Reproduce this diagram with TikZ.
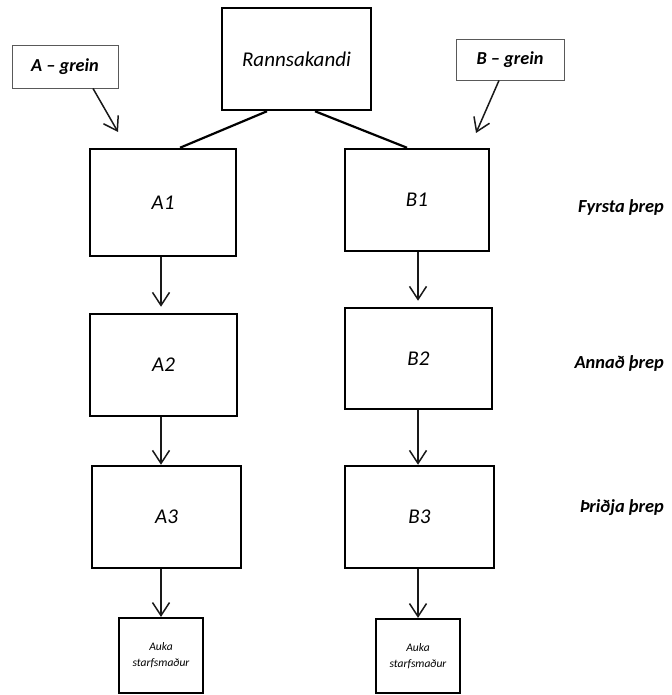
\documentclass[tikz,border=0pt]{standalone}
\usepackage{fontspec}
\setmainfont{Carlito}
\usetikzlibrary{arrows.meta,calc}
\begin{document}
\begin{tikzpicture}[x=1pt,y=-1pt,
  box/.style={draw, line width=2.5pt, inner sep=0pt, font=\itshape\fontsize{21}{25}\selectfont},
  tag/.style={draw=black!65, line width=0.9pt, inner sep=0pt, font=\bfseries\itshape\fontsize{18.3}{21}\selectfont},
  smallbox/.style={draw, line width=2.2pt, inner sep=0pt, align=center, font=\itshape\fontsize{11.5}{16}\selectfont},
  steplbl/.style={inner sep=0pt, anchor=east, font=\bfseries\itshape\fontsize{18.4}{21}\selectfont},
  arr/.style={draw=black!90, line width=1.5pt, -{Straight Barb[length=13pt,width=17pt]}},
  link/.style={line width=2.2pt}]
\useasboundingbox (0,0) rectangle (671,695);

\node[box, minimum width=149pt, minimum height=102pt] (R) at (296.5,59) {Rannsakandi};
\node[tag, minimum width=106pt, minimum height=43pt] (Ag) at (65,66.5) {A -- grein};
\node[tag, minimum width=108pt, minimum height=41pt] (Bg) at (510,59.5) {B -- grein};

\node[box, minimum width=146pt, minimum height=107pt] (A1) at (163,202.5) {A1};
\node[box, minimum width=144pt, minimum height=102pt] (B1) at (417,200) {B1};
\node[box, minimum width=147pt, minimum height=102pt] (A2) at (163.5,365) {A2};
\node[box, minimum width=147pt, minimum height=101pt] (B2) at (418.5,358.5) {B2};
\node[box, minimum width=149pt, minimum height=102pt] (A3) at (166.5,517) {A3};
\node[box, minimum width=149pt, minimum height=102pt] (B3) at (419.5,517) {B3};
\node[smallbox, minimum width=84pt, minimum height=75pt] (AukaA) at (161,655.5) {Auka\\starfsmaður};
\node[smallbox, minimum width=84pt, minimum height=74pt] (AukaB) at (418,656) {Auka\\starfsmaður};

\node[steplbl] (L1) at (664,207) {Fyrsta þrep};
\node[steplbl] (L2) at (664,363) {Annað þrep};
\node[steplbl] (L3) at (664,508) {Þriðja þrep};

\draw[link] ($(R.south)+(-29.5,0)$) -- ($(A1.north)+(17,0)$);
\draw[link] ($(R.south)+(18.5,0)$) -- ($(B1.north)+(-10,0)$);

\coordinate (ta) at (118,132);
\coordinate (tb) at (476,133);
\draw[arr] ($(Ag.south)+(28,0)$) -- (ta);
\draw[arr] ($(Bg.south)+(-11,0)$) -- (tb);

\draw[arr] (A1.south -| AukaA) -- ($(A2.north -| AukaA)+(0,-6)$);
\draw[arr] (A2.south -| AukaA) -- (A3.north -| AukaA);
\draw[arr] (A3.south -| AukaA) -- (AukaA.north);
\draw[arr] (B1.south -| AukaB) -- ($(B2.north -| AukaB)+(0,-6)$);
\draw[arr] (B2.south -| AukaB) -- (B3.north -| AukaB);
\draw[arr] (B3.south -| AukaB) -- (AukaB.north);
\end{tikzpicture}
\end{document}
